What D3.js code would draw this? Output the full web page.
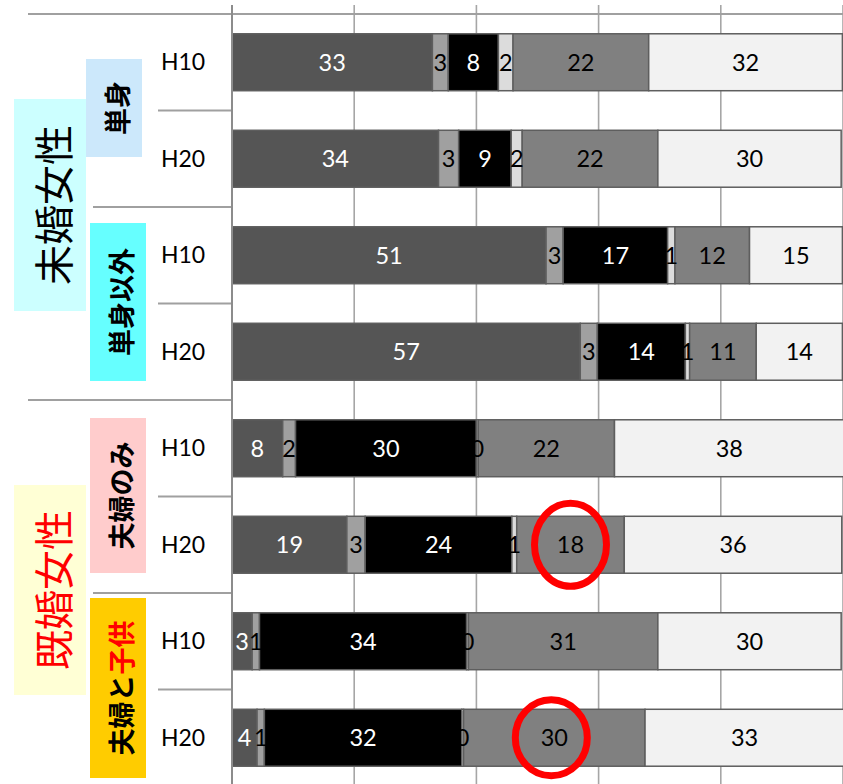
<!DOCTYPE html>
<html><head><meta charset="utf-8">
<script src="https://cdn.jsdelivr.net/npm/d3@7"></script>
<style>body{margin:0;background:#fff}svg{display:block}</style>
</head><body>
<svg id="c" width="843" height="784"></svg>
<script>
// ---- data ----
const groups = ["未婚女性", "既婚女性"];
const subgroups = ["単身", "単身以外", "夫婦のみ", "夫婦と子供"];
const years = ["H10", "H20", "H10", "H20", "H10", "H20", "H10", "H20"];
const rowSub = [0, 0, 1, 1, 2, 2, 3, 3];
const rowGroup = [0, 0, 0, 0, 1, 1, 1, 1];
const s1 = [32.8, 33.8, 51.4, 57.0, 8.3, 18.8, 3.3, 4.1];
const s2 = [2.6, 3.3, 2.8, 2.8, 2.1, 3.0, 1.2, 1.2];
const s3 = [8.2, 8.6, 17.1, 14.4, 29.6, 24.0, 33.9, 32.3];
const s4 = [2.4, 1.8, 1.2, 0.7, 0.3, 0.8, 0.3, 0.3];
const s5 = [22.2, 22.2, 12.2, 10.9, 22.3, 17.6, 31.0, 29.7];
const s6 = [31.7, 30.0, 15.2, 14.1, 37.6, 35.6, 30.0, 32.6];
const xTicks = [0, 20, 40, 60, 80, 100];
const highlights = [{row: 5, series: 4}, {row: 7, series: 4}];

// ---- styles ----
const series = [s1, s2, s3, s4, s5, s6];
const fills = ["#555555", "#a0a0a0", "#000000", "#dcdcdc", "#808080", "#f2f2f2"];
const textFill = ["#ffffff", "#000000", "#ffffff", "#000000", "#000000", "#000000"];
const numFont = "Lato, 'Open Sans', sans-serif";
const cjk = "'Noto Sans CJK JP', 'Noto Sans CJK SC', sans-serif";

const svg = d3.select("#c");
const x = d3.scaleLinear().domain([0, 100]).range([232, 843]);
const rowIdx = d3.range(years.length);
const y = d3.scaleBand().domain(rowIdx).range([14, 786]).paddingInner(0.41).paddingOuter(0.205);
const step = y.step();

// stacked layout
const table = rowIdx.map(i => { const o = {i}; series.forEach((s, k) => o["k" + k] = s[i]); return o; });
const stack = d3.stack().keys(series.map((s, k) => "k" + k))(table);

// gridlines
svg.append("g").selectAll("line").data(xTicks.slice(1)).join("line")
  .attr("x1", d => x(d)).attr("x2", d => x(d)).attr("y1", 5).attr("y2", 784)
  .attr("stroke", "#a6a6a6").attr("stroke-width", 1.6);

// top border
svg.append("line").attr("x1", 28).attr("x2", 843).attr("y1", 14).attr("y2", 14)
  .attr("stroke", "#a0a0a0").attr("stroke-width", 2);

// row separators on the left
svg.append("g").selectAll("line").data(d3.range(years.length - 1)).join("line")
  .attr("x1", i => rowGroup[i] !== rowGroup[i + 1] ? 28 : (rowSub[i] !== rowSub[i + 1] ? 93 : 158))
  .attr("x2", x(0))
  .attr("y1", i => y(i) + y.bandwidth() + (step - y.bandwidth()) / 2)
  .attr("y2", i => y(i) + y.bandwidth() + (step - y.bandwidth()) / 2)
  .attr("stroke", "#a0a0a0").attr("stroke-width", 2);

// bars
stack.forEach((layer, k) => {
  svg.append("g").selectAll("rect").data(layer).join("rect")
    .attr("x", d => x(d[0])).attr("width", d => x(d[1]) - x(d[0]))
    .attr("y", (d, i) => y(i)).attr("height", y.bandwidth())
    .attr("fill", fills[k]).attr("stroke", "#5e5e5e").attr("stroke-width", 1.5);
});

// axis line
svg.append("line").attr("x1", x(0)).attr("x2", x(0)).attr("y1", 5).attr("y2", 784)
  .attr("stroke", "#8c8c8c").attr("stroke-width", 2);

// data labels
stack.forEach((layer, k) => {
  svg.append("g").selectAll("text").data(layer).join("text")
    .attr("x", d => (x(d[0]) + x(d[1])) / 2)
    .attr("y", (d, i) => y(i) + y.bandwidth() / 2 + 8.5)
    .attr("text-anchor", "middle")
    .attr("font-family", numFont).attr("font-size", 23.5)
    .attr("fill", textFill[k])
    .text((d, i) => d3.format(".0f")(series[k][i]));
});

// year labels
svg.append("g").selectAll("text").data(rowIdx).join("text")
  .attr("x", 183).attr("y", i => y(i) + y.bandwidth() / 2 + 8)
  .attr("text-anchor", "middle").attr("font-family", numFont).attr("font-size", 23)
  .attr("fill", "#000").text(i => years[i]);

// group / subgroup boxes
const boxes = [
  {x: 14, y: 99, w: 72, h: 212, fill: "#ccffff", parts: [[groups[0], "#000"]], size: 40, weight: 400},
  {x: 14, y: 485, w: 72, h: 210, fill: "#ffffd5", parts: [[groups[1], "#ff0000"]], size: 40, weight: 400},
  {x: 86, y: 59, w: 56, h: 98, fill: "#cce8fb", parts: [[subgroups[0], "#000"]], size: 27, weight: 700},
  {x: 90, y: 223, w: 56, h: 158, fill: "#66ffff", parts: [[subgroups[1], "#000"]], size: 27, weight: 700},
  {x: 90, y: 418, w: 56, h: 155, fill: "#ffcccc", parts: [[subgroups[2], "#000"]], size: 27, weight: 700},
  {x: 90, y: 598, w: 56, h: 180, fill: "#ffcc00", parts: [["夫婦と", "#000"], ["子供", "#ff0000"]], size: 27, weight: 700}
];
boxes.forEach(b => {
  svg.append("rect").attr("x", b.x).attr("y", b.y).attr("width", b.w).attr("height", b.h).attr("fill", b.fill);
  const cx = b.x + b.w / 2 + 2, cy = b.y + b.h / 2;
  const t = svg.append("text")
    .attr("transform", `translate(${cx},${cy}) rotate(-90)`)
    .attr("text-anchor", "middle").attr("dominant-baseline", "central")
    .attr("font-family", cjk).attr("font-size", b.size).attr("font-weight", b.weight);
  b.parts.forEach(p => t.append("tspan").attr("fill", p[1]).text(p[0]));
});

// red highlight ellipses
const radii = [[36, 41.5], [36, 38]];
highlights.forEach((h, j) => {
  const d = stack[h.series][h.row];
  svg.append("ellipse")
    .attr("cx", (x(d[0]) + x(d[1])) / 2 - (j === 1 ? 3 : 0))
    .attr("cy", y(h.row) + y.bandwidth() / 2)
    .attr("rx", radii[j][0]).attr("ry", radii[j][1])
    .attr("fill", "none").attr("stroke", "#ff0000").attr("stroke-width", 7);
});
</script>
</body></html>
